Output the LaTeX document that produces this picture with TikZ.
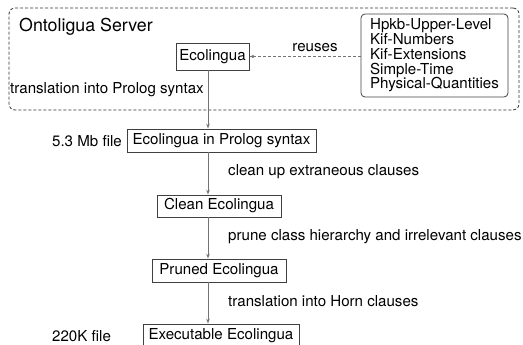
\documentclass[tikz,border=0pt]{standalone}
\usepackage{fontspec}
\setmainfont{TeX Gyre Heros}
\usetikzlibrary{arrows.meta}
\begin{document}
\begin{tikzpicture}[x=1pt,y=-1pt,
  font=\fontsize{15.1}{16}\selectfont,
  box/.style={draw=black!75, line width=0.8pt, inner sep=0pt},
  lbl/.style={inner sep=0pt},
  flow/.style={draw=black!55, line width=0.8pt, -{Stealth[length=5pt,width=3.5pt]}},
  dashline/.style={dash pattern=on 3pt off 2pt}]
\useasboundingbox (0,0) rectangle (523,345);
\clip (0,0) rectangle (523,345);
\node[draw=black!80, line width=0.8pt, dashline, rounded corners=6pt, minimum width=510pt, minimum height=102pt, inner sep=0pt] (server) at (264,59) {};
\node[lbl, anchor=west, font=\fontsize{17.8}{19}\selectfont] (title) at (19,27) {Ontoligua Server};
\coordinate (spine) at (208,0);
\node[box, minimum width=73pt, minimum height=27pt] (eco) at (212.5,56.5) {Ecolingua};
\node[box, draw=black!75, rounded corners=4pt, minimum width=147pt, minimum height=83pt, align=left, inner xsep=4pt, font=\fontsize{15.1}{14.7}\selectfont] (lib) at (434.5,55.5) {Hpkb-Upper-Level\\Kif-Numbers\\Kif-Extensions\\Simple-Time\\Physical-Quantities};
\draw[draw=black!55, line width=0.8pt, dashline, -{Stealth[length=5pt,width=3.5pt]}] (lib.west |- eco.east) -- (eco.east) node[pos=0.41, above=4pt, lbl, black] (reuses) {reuses};
\node[lbl, anchor=west] (tr1) at (10,90) {translation into Prolog syntax};
\node[box, minimum width=189pt, minimum height=23pt] (prolog) at (221.5,140.5) {Ecolingua in Prolog syntax};
\node[lbl, anchor=east] (size1) at (122,141) {5.3 Mb file};
\node[box, minimum width=124pt, minimum height=22pt] (clean) at (219,206) {Clean Ecolingua};
\node[lbl, anchor=west] (tr2) at (228,172) {clean up extraneous clauses};
\node[box, minimum width=134pt, minimum height=23pt] (pruned) at (219,270.5) {Pruned Ecolingua};
\node[lbl, anchor=west] (tr3) at (228,237) {prune class hierarchy and irrelevant clauses};
\node[box, minimum width=156pt, minimum height=23pt] (exec) at (221,335.5) {Executable Ecolingua};
\node[lbl, anchor=west] (tr4) at (228,301) {translation into Horn clauses};
\node[lbl, anchor=west] (size2) at (52,336) {220K file};
\draw[flow] (eco.south -| spine) -- (prolog.north -| spine);
\draw[flow] (prolog.south -| spine) -- (clean.north -| spine);
\draw[flow] (clean.south -| spine) -- (pruned.north -| spine);
\draw[flow] (pruned.south -| spine) -- (exec.north -| spine);
\end{tikzpicture}
\end{document}
